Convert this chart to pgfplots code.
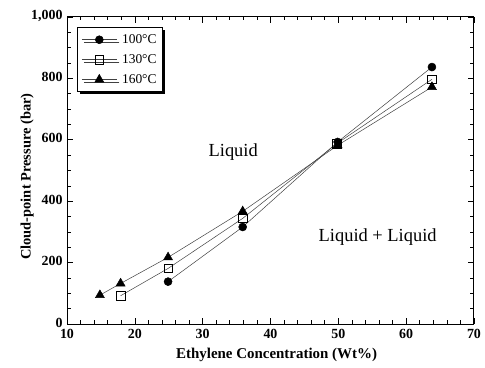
\documentclass[border=0pt]{standalone}
\usepackage{fontspec}
\setmainfont{Liberation Serif}
\usepackage{pgfplots}
\pgfplotsset{compat=1.18}
\usetikzlibrary{shadows}
\begin{document}
\begin{tikzpicture}
\begin{axis}[
  at={(67bp,44bp)}, anchor=south west,
  scale only axis, width=407bp, height=307bp,
  xmin=10, xmax=70, ymin=0, ymax=1000,
  xtick={10,20,...,70}, ytick={0,200,...,1000},
  minor x tick num=4, minor y tick num=3,
  tick align=inside,
  major tick length=6bp, minor tick length=3.5bp,
  tick style={black, line width=0.6pt},
  axis line style={line width=1pt},
  /pgf/number format/assume math mode=true,
  /pgf/number format/1000 sep={,},
  ticklabel style={font=\fontsize{14}{14}\selectfont\bfseries},
  xticklabel style={yshift=-2bp},
  yticklabel style={xshift=-1bp, yshift=1.5bp},
  xlabel={Ethylene Concentration (Wt\%)},
  ylabel={Cloud-point Pressure (bar)},
  xlabel style={font=\fontsize{15}{15}\selectfont\bfseries, at={(axis description cs:0.515,-0.101)}, anchor=center},
  ylabel style={font=\fontsize{14.5}{14.5}\selectfont\bfseries, at={(axis description cs:-0.098,0.48)}, anchor=center},
  legend style={at={(0.025,0.967)}, anchor=north west, draw=black, line width=0.8pt, fill=white,
    drop shadow={shadow xshift=2.5bp, shadow yshift=-2.5bp, fill=black, opacity=1},
    font=\fontsize{13.5}{13.5}\selectfont, cells={anchor=west}, row sep=5.5bp, column sep=3bp,
    inner xsep=4bp, inner ysep=5bp},
  legend image code/.code={\draw[mark repeat=2,mark phase=2] plot coordinates {(0bp,0bp)(17.5bp,0bp)(35bp,0bp)};},
]
\addplot[black!75, line width=0.5pt, mark=*, mark size=4bp, mark options={black, fill=black}]
  coordinates {(24.9,138)(35.9,316)(49.9,593)(63.8,837)};
\addlegendentry{100°C}
\addplot[black!75, line width=0.5pt, mark=square, mark size=4.3bp, mark options={black, fill=white, line width=0.5pt}]
  coordinates {(17.9,92)(24.9,181)(35.9,344)(49.8,588)(63.8,797)};
\addlegendentry{130°C}
\addplot[black!75, line width=0.5pt, mark=triangle*, mark size=5.2bp, mark options={black, fill=black}]
  coordinates {(14.85,94)(17.9,132)(24.9,217)(35.9,367)(49.9,582)(63.8,772)};
\addlegendentry{160°C}
\node[font=\fontsize{18.5}{18.5}\selectfont] at (axis cs:34.5,559) {Liquid};
\node[font=\fontsize{18.5}{18.5}\selectfont] at (axis cs:55.8,284) {Liquid + Liquid};
\end{axis}
\pgfresetboundingbox
\path (0,0) rectangle (485bp,368bp);
\end{tikzpicture}
\end{document}
